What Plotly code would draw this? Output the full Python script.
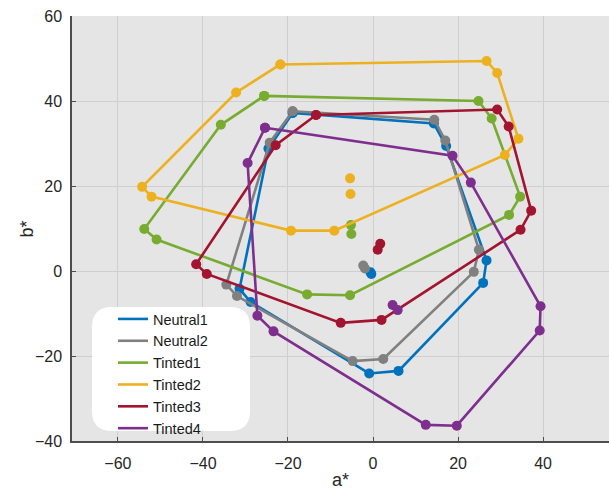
import plotly.graph_objects as go

series_names = ["Neutral1", "Neutral2", "Tinted1", "Tinted2", "Tinted3", "Tinted4"]
series_colors = ["#0072BD", "#808080", "#77AC30", "#EDB120", "#A2142F", "#7E2F8E"]

neutral1_a = [-18.9, 14.3, 17.2, 26.7, 25.9, 6.0, -0.9, -28.8, -31.4, -24.6]
neutral1_b = [37.2, 34.7, 29.4, 2.5, -2.8, -23.5, -24.1, -7.3, -4.2, 28.8]
neutral1_center_a = [-0.6, -0.4]
neutral1_center_b = [-0.3, -0.7]

neutral2_a = [-18.9, 14.4, 17.0, 24.9, 23.7, 2.4, -4.8, -32.0, -34.5, -24.3]
neutral2_b = [37.6, 35.6, 30.7, 5.0, -0.2, -20.7, -21.2, -5.9, -3.2, 30.2]
neutral2_center_a = [-2.3, -1.9]
neutral2_center_b = [1.3, 0.6]

tinted1_a = [-25.6, 24.8, 27.9, 34.6, 32.0, -5.4, -15.5, -50.9, -53.8, -35.8]
tinted1_b = [41.2, 40.0, 35.9, 17.5, 13.2, -5.7, -5.5, 7.4, 9.9, 34.4]
tinted1_center_a = [-5.2, -5.1]
tinted1_center_b = [10.8, 8.7]

tinted2_a = [-21.8, 26.7, 29.2, 34.2, 31.0, -9.1, -19.3, -52.1, -54.3, -32.2]
tinted2_b = [48.6, 49.4, 46.6, 31.1, 27.3, 9.5, 9.5, 17.5, 19.8, 42.0]
tinted2_center_a = [-5.4, -5.3]
tinted2_center_b = [21.8, 18.1]

tinted3_a = [-13.4, 29.2, 31.9, 37.2, 34.7, 2.0, -7.6, -39.1, -41.6, -22.9]
tinted3_b = [36.7, 38.0, 34.0, 14.2, 9.7, -11.5, -12.2, -0.7, 1.6, 29.6]
tinted3_center_a = [1.7, 1.1]
tinted3_center_b = [6.4, 5.0]

tinted4_a = [-25.4, 18.7, 23.0, 39.4, 39.2, 19.7, 12.4, -23.4, -27.2, -29.5]
tinted4_b = [33.7, 27.1, 20.8, -8.3, -14.0, -36.4, -36.2, -14.2, -10.5, 25.4]
tinted4_center_a = [4.6, 5.8]
tinted4_center_b = [-8.0, -9.2]

x_ticks = [-60, -40, -20, 0, 20, 40]
y_ticks = [-40, -20, 0, 20, 40, 60]

hull_a = [neutral1_a, neutral2_a, tinted1_a, tinted2_a, tinted3_a, tinted4_a]
hull_b = [neutral1_b, neutral2_b, tinted1_b, tinted2_b, tinted3_b, tinted4_b]
center_a = [neutral1_center_a, neutral2_center_a, tinted1_center_a,
            tinted2_center_a, tinted3_center_a, tinted4_center_a]
center_b = [neutral1_center_b, neutral2_center_b, tinted1_center_b,
            tinted2_center_b, tinted3_center_b, tinted4_center_b]

fig = go.Figure()
for name, color, xa, yb, ca, cb in zip(series_names, series_colors, hull_a, hull_b, center_a, center_b):
    fig.add_trace(go.Scatter(
        x=xa + [xa[0]], y=yb + [yb[0]], mode="lines+markers", name=name,
        legendgroup=name, showlegend=False,
        line=dict(color=color, width=2.6),
        marker=dict(color=color, size=10),
    ))
    fig.add_trace(go.Scatter(
        x=ca, y=cb, mode="markers", name=name, legendgroup=name, showlegend=False,
        marker=dict(color=color, size=10),
    ))
# legend entries (line only, as in the reference legend)
for name, color in zip(series_names, series_colors):
    fig.add_trace(go.Scatter(
        x=[None], y=[None], mode="lines", name=name, legendgroup=name,
        line=dict(color=color, width=2.6),
    ))

# rounded white legend box (paper coordinates)
L, R, B, T = 72, 609, 441, 16
W, H = R - L, B - T
def px(xp):
    return (xp - L) / W
def py(yp):
    return (B - yp) / H
bx0, bx1, by0, by1, rad = 92, 250, 307, 431, 20
path = (
    f"M {px(bx0+rad)},{py(by0)} L {px(bx1-rad)},{py(by0)} "
    f"Q {px(bx1)},{py(by0)} {px(bx1)},{py(by0+rad)} "
    f"L {px(bx1)},{py(by1-rad)} Q {px(bx1)},{py(by1)} {px(bx1-rad)},{py(by1)} "
    f"L {px(bx0+rad)},{py(by1)} Q {px(bx0)},{py(by1)} {px(bx0)},{py(by1-rad)} "
    f"L {px(bx0)},{py(by0+rad)} Q {px(bx0)},{py(by0)} {px(bx0+rad)},{py(by0)} Z"
)
fig.add_shape(type="path", path=path, xref="paper", yref="paper",
              fillcolor="white", line=dict(width=0), layer="above")

axis_common = dict(
    showgrid=True, gridcolor="#cfcfcf", gridwidth=1,
    zeroline=False, showline=True, linecolor="#4d4d4d", linewidth=1.5,
    ticks="inside", ticklen=4, tickcolor="#4d4d4d", mirror=False,
    automargin=False,
    tickfont=dict(family="Liberation Sans, Arial, sans-serif", size=16, color="#262626"),
)

fig.add_annotation(text="a*", xref="paper", yref="paper", x=0.5, y=py(480),
                   xanchor="center", yanchor="middle", showarrow=False,
                   font=dict(size=18, color="#262626"))
fig.add_annotation(text="b*", xref="paper", yref="paper", x=px(26), y=0.5,
                   xanchor="center", yanchor="middle", showarrow=False, textangle=-90,
                   font=dict(size=18, color="#262626"))

fig.update_layout(
    width=609, height=491,
    margin=dict(l=L, r=0, t=T, b=491 - B, autoexpand=False),
    paper_bgcolor="white", plot_bgcolor="#e5e5e5",
    font=dict(family="Liberation Sans, Arial, sans-serif", color="#262626"),
    xaxis=dict(axis_common, range=[-70.8, 55.5], tickvals=x_ticks,
               ticklabelstandoff=7),
    yaxis=dict(axis_common, range=[-40, 60], tickvals=y_ticks,
               ticklabelstandoff=5),
    legend=dict(x=px(113), y=py(303), xanchor="left", yanchor="top",
                bgcolor="rgba(0,0,0,0)", borderwidth=0,
                font=dict(size=14.5, color="#1a1a1a"), tracegroupgap=0),
    showlegend=True,
)

fig.write_html("out.html", config={"displayModeBar": False},
               post_script="document.body.style.margin='0';document.body.style.overflow='hidden';")
